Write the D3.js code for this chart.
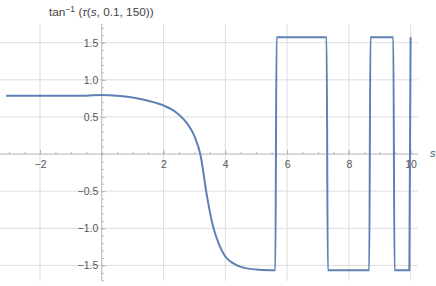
<!DOCTYPE html>
<html>
<head>
<meta charset="utf-8">
<script src="https://cdn.jsdelivr.net/npm/d3@7"></script>
<style>
  body { margin: 0; background: #fff; }
  svg { display: block; font-family: "Liberation Sans", Arial, sans-serif; }
</style>
</head>
<body>
<div id="chart"></div>
<script>
// curve samples
const sVals = [-3.1, -2, -1, -0.5, 0, 0.5, 1, 1.5, 2, 2.25, 2.5, 2.75, 3.0, 3.2, 3.4, 3.6, 3.8, 4.0, 4.25, 4.5, 5.0, 5.5, 5.62,
               5.66, 7.28, 7.32, 8.66, 8.70, 9.44, 9.48, 9.96, 10.0];
const yVals = [0.785, 0.785, 0.785, 0.787, 0.797, 0.787, 0.762, 0.718, 0.655, 0.605, 0.53, 0.42, 0.24, -0.02, -0.55, -0.97, -1.22, -1.38, -1.47, -1.52, -1.555, -1.565, -1.566,
               1.572, 1.572, -1.566, -1.566, 1.572, 1.572, -1.566, -1.566, 1.572];
const xMajorTicks = [-2, 2, 4, 6, 8, 10];
const xMinorTicks = d3.range(-3, 10.01, 0.5);
const yMajorTicks = [-1.5, -1.0, -0.5, 0.5, 1.0, 1.5];
const yMinorTicks = d3.range(-1.7, 1.71, 0.1).map(v => +v.toFixed(1));
const titleText = "tan";

function drawChart(containerId) {
  const width = 436, height = 286;

  const svg = d3.select(`#${containerId}`)
      .append("svg")
          .attr("width", width)
          .attr("height", height);

  const x = d3.scaleLinear().domain([-3.295, 10.24]).range([0, 418]);
  const y = d3.scaleLinear().domain([1.752, -1.71]).range([24, 281]);

  const axisColor = "#b3b3b3", gridColor = "#dedede", labelColor = "#555";

  // Grid
  svg.append("g")
      .selectAll("line")
      .data(xMajorTicks)
      .join("line")
          .attr("x1", d => x(d)).attr("x2", d => x(d))
          .attr("y1", y.range()[0]).attr("y2", y.range()[1])
          .attr("stroke", gridColor).attr("stroke-width", 1);
  svg.append("g")
      .selectAll("line")
      .data(yMajorTicks)
      .join("line")
          .attr("x1", x.range()[0]).attr("x2", x.range()[1])
          .attr("y1", d => y(d)).attr("y2", d => y(d))
          .attr("stroke", gridColor).attr("stroke-width", 1);

  // X axis
  const xAxisG = svg.append("g").attr("transform", `translate(0,${y(0)})`);
  xAxisG.append("g")
      .call(d3.axisBottom(x).tickValues(xMinorTicks).tickSize(-2).tickFormat(""));
  xAxisG.append("g")
      .call(d3.axisBottom(x).tickValues(xMajorTicks).tickSize(-4).tickPadding(6).tickFormat(d3.format("d")));
  xAxisG.selectAll(".domain").remove();
  xAxisG.selectAll("line").attr("stroke", axisColor);
  xAxisG.selectAll("text").attr("fill", labelColor).style("font-size", "10.5px");
  xAxisG.append("line")
      .attr("x1", x.range()[0]).attr("x2", x.range()[1])
      .attr("stroke", axisColor);

  // Y axis
  const yAxisG = svg.append("g").attr("transform", `translate(${x(0)},0)`);
  yAxisG.append("g")
      .call(d3.axisLeft(y).tickValues(yMinorTicks).tickSize(-2).tickFormat(""));
  yAxisG.append("g")
      .call(d3.axisLeft(y).tickValues(yMajorTicks).tickSize(-4).tickPadding(3.5).tickFormat(d3.format(".1f")));
  yAxisG.selectAll(".domain").remove();
  yAxisG.selectAll("line").attr("stroke", axisColor);
  yAxisG.selectAll("text").attr("fill", labelColor).style("font-size", "10.5px");
  yAxisG.append("line")
      .attr("y1", y.range()[0]).attr("y2", y.range()[1])
      .attr("stroke", axisColor);

  // Axis labels
  svg.append("text")
      .attr("x", 430)
      .attr("y", y(0) + 3)
      .attr("fill", labelColor)
      .style("font-size", "11px")
      .style("font-style", "italic")
      .text("s");

  const title = svg.append("text")
      .attr("x", 49)
      .attr("y", 16)
      .attr("fill", "#444")
      .style("font-size", "11.8px");
  title.append("tspan").text(titleText);
  title.append("tspan").attr("dy", -4.5).style("font-size", "8.5px").text("\u22121");
  title.append("tspan").attr("dy", 4.5).text(" (");
  title.append("tspan").style("font-style", "italic").text("\u03c4");
  title.append("tspan").text("(");
  title.append("tspan").style("font-style", "italic").text("s");
  title.append("tspan").text(", 0.1, 150))");

  // Curve
  const data = sVals.map((s, i) => ({ s: s, v: yVals[i] }));
  svg.append("path")
      .datum(data)
      .attr("fill", "none")
      .attr("stroke", "#5e81b5")
      .attr("stroke-width", 2)
      .attr("stroke-linejoin", "round")
      .attr("d", d3.line()
          .curve(d3.curveMonotoneX)
          .x(d => x(d.s))
          .y(d => y(d.v))
      );
}

drawChart("chart");
</script>
</body>
</html>
